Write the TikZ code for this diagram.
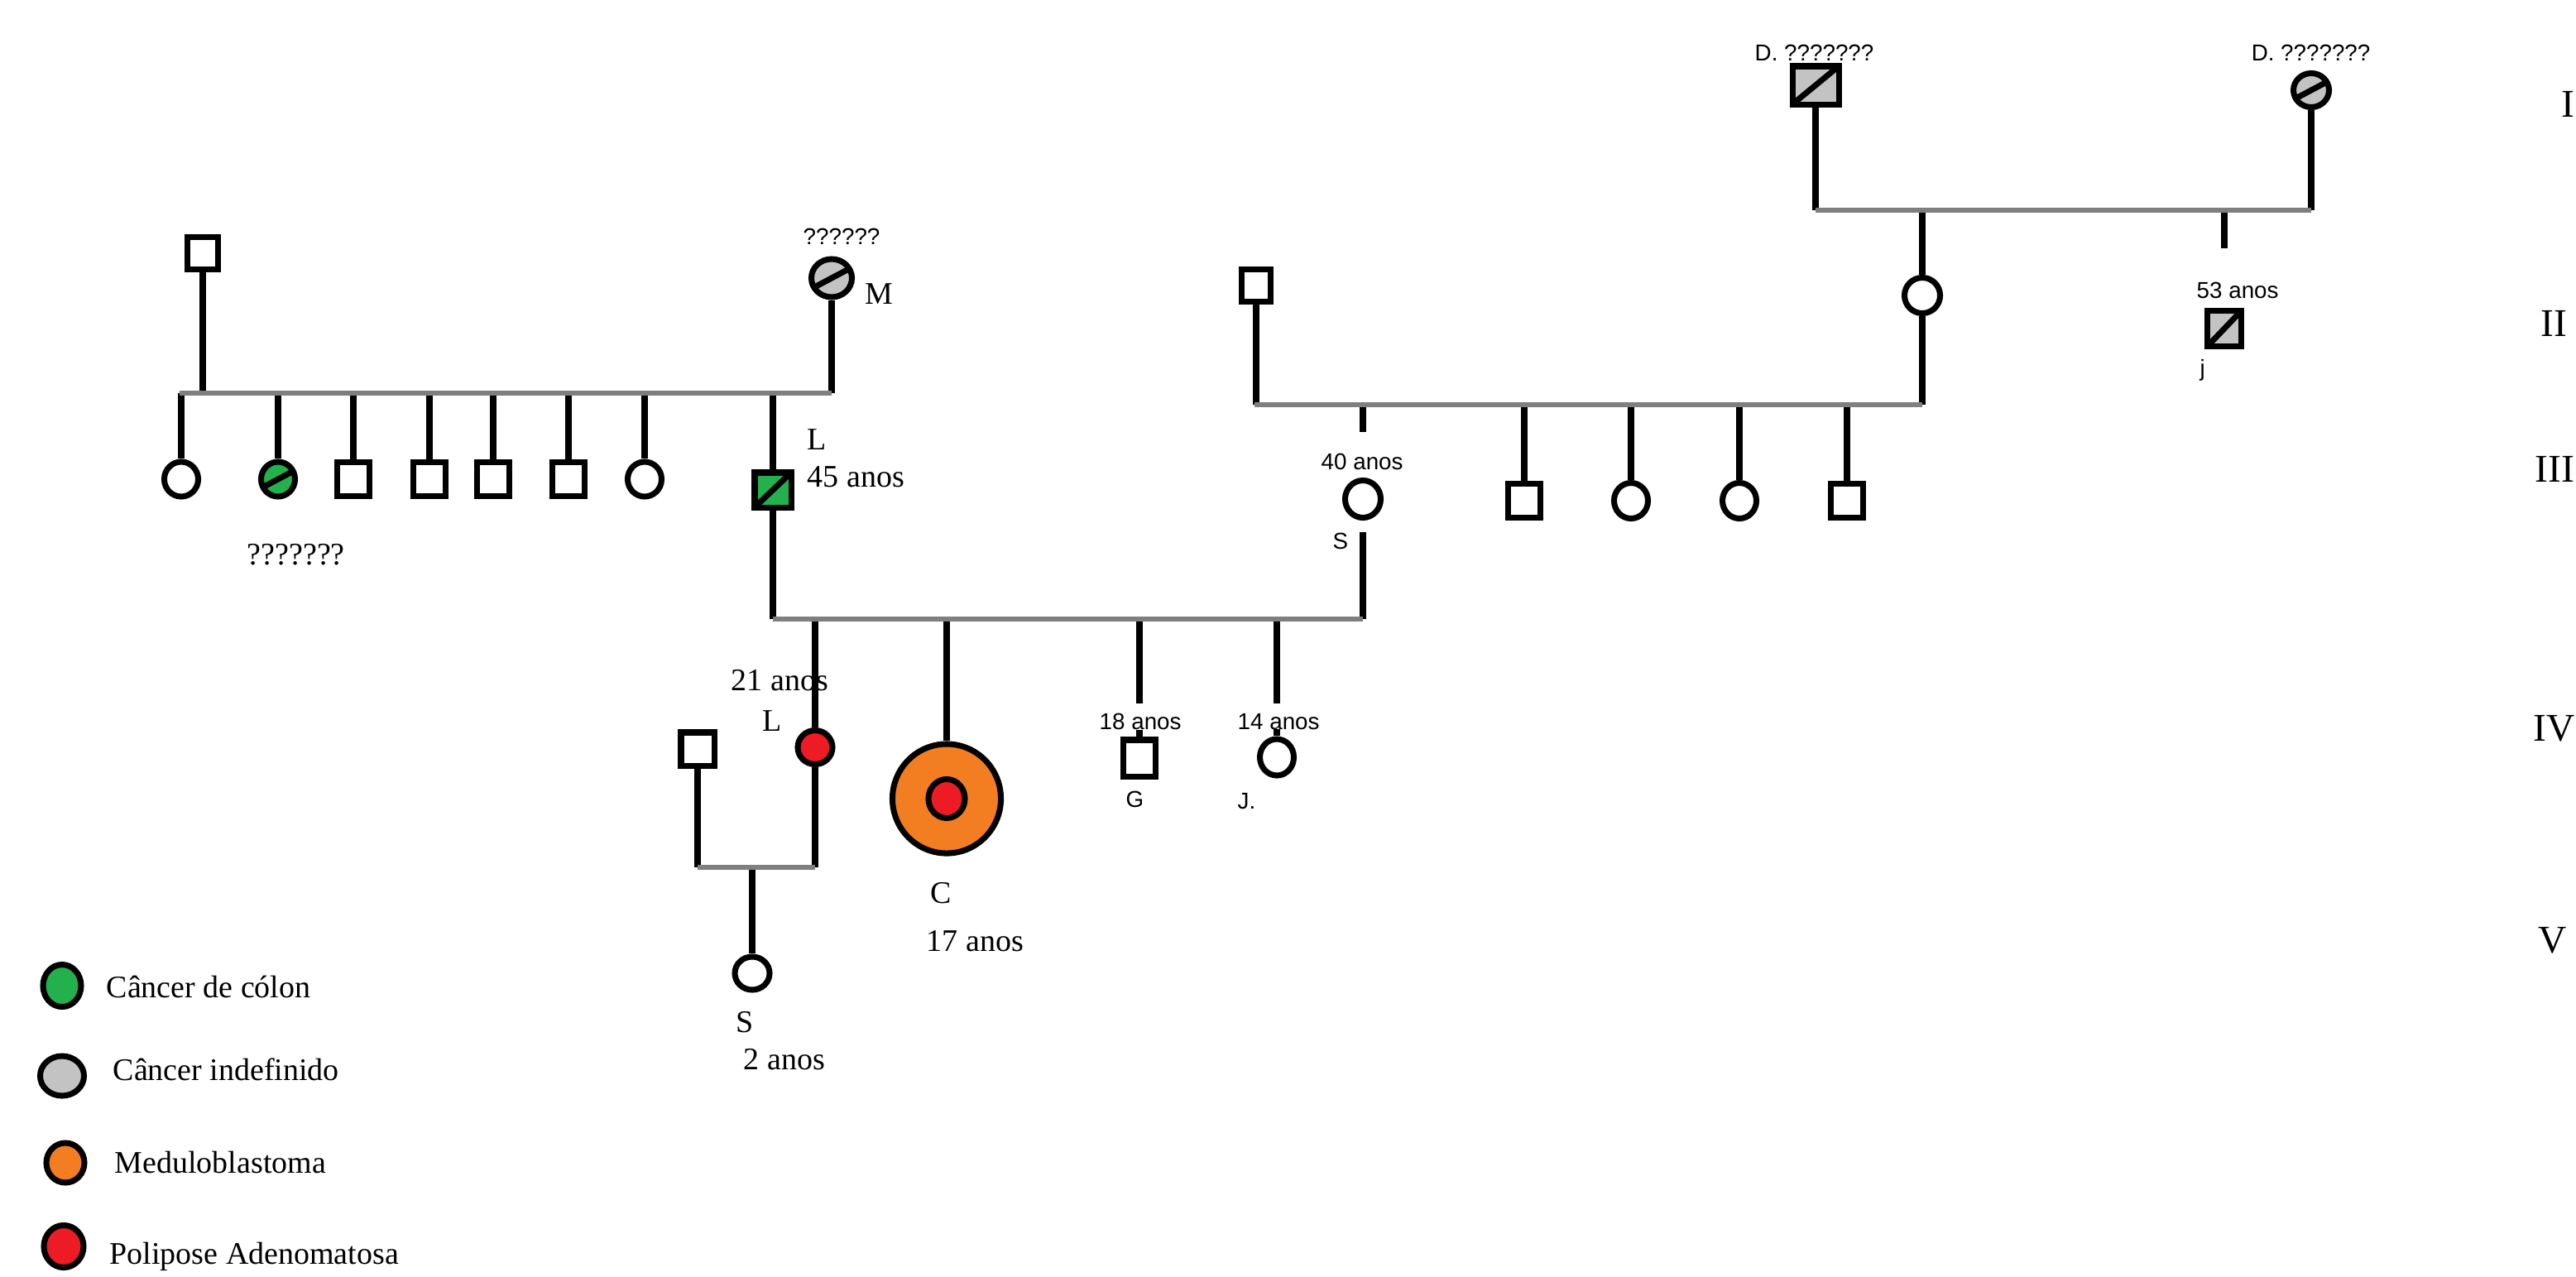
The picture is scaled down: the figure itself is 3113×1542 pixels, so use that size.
\documentclass[tikz,border=0pt]{standalone}
\usepackage{fontspec}
\setmainfont{Liberation Serif}
\newfontfamily\sansf{Liberation Sans}
\usetikzlibrary{shapes.geometric}
\definecolor{pgreen}{HTML}{22B14C}
\definecolor{pgrey}{HTML}{C3C3C3}
\definecolor{porange}{HTML}{F37E22}
\definecolor{pred}{HTML}{ED1C24}
\definecolor{lgrey}{HTML}{7F7F7F}
\begin{document}
\begin{tikzpicture}[x=0.01cm,y=-0.01cm,
  mline/.style={line width=2.1pt,black},
  sib/.style={line width=1.8pt,draw=lgrey},
  male/.style={draw,line width=2pt,rectangle,minimum width=0.39cm,minimum height=0.41cm,inner sep=0pt,fill=white},
  female/.style={draw,line width=2pt,ellipse,minimum width=0.41cm,minimum height=0.43cm,inner sep=0pt,fill=white},
  affsq/.style={path picture={\draw[line width=2pt] (path picture bounding box.south west) -- (path picture bounding box.north east);}},
  affcirc/.style={path picture={\draw[line width=2pt] ([shift={(208:0.5cm)}]path picture bounding box.center) -- ([shift={(28:0.5cm)}]path picture bounding box.center);}},
  serif/.style={inner sep=0pt,anchor=base west,font=\fontsize{10.8}{12}\selectfont},
  sans/.style={inner sep=0pt,anchor=base west,font=\sansf\fontsize{7.9}{9}\selectfont},
  roman/.style={inner sep=0pt,anchor=base west,font=\fontsize{13.5}{15}\selectfont}
]
\useasboundingbox[fill=white] (0,0) rectangle (3113,1542);

% ---------- Generation I ----------
\node[male,fill=pgrey,affsq,minimum width=0.56cm,minimum height=0.46cm] (i1) at (2194,103) {};
\node[female,fill=pgrey,affcirc,minimum width=0.43cm,minimum height=0.41cm] (i2) at (2793,109) {};
\node[sans] (ti1) at (2120,73) {D. ???????};
\node[sans] (ti2) at (2720,73) {D. ???????};
\coordinate (i1b) at (2194,254);
\coordinate (i2b) at (2793,254);
\draw[mline] (i1) -- (i1b);
\draw[mline] (i2) -- (i2b);

% ---------- Generation II ----------
\node[male,minimum width=0.37cm,minimum height=0.39cm] (iia) at (245,306) {};
\node[female,fill=pgrey,affcirc,minimum width=0.49cm,minimum height=0.46cm] (iib) at (1005,336) {};
\node[sans] (tiib) at (970,295) {??????};
\node[serif] (tm) at (1045,367) {M};
\node[male,minimum width=0.35cm,minimum height=0.39cm] (iic) at (1518,345) {};
\node[female,minimum width=0.43cm,minimum height=0.43cm] (iid) at (2323,357) {};
\node[male,fill=pgrey,affsq,minimum width=0.41cm,minimum height=0.43cm] (iie) at (2688,397) {};
\node[sans] (t53) at (2654,360) {53 anos};
\node[sans] (tj) at (2658,454) {j};

\coordinate (iidt) at (2323,254);
\coordinate (stubI) at (2688,254);
\coordinate (stubIb) at (2688,300);
\draw[mline] (iidt) -- (iid);
\draw[mline] (stubI) -- (stubIb);
\draw[sib] (i1b) -- (i2b);

% left sibship
\coordinate (iiaB) at (245,475);
\coordinate (iibB) at (1005,475);
\coordinate (sibL) at (217,475);
\draw[mline] (iia) -- (iiaB);
\draw[mline] (iib) -- (iibB);

% right couple
\coordinate (iicB) at (1518,489);
\coordinate (iidB) at (2323,489);
\draw[mline] (iic) -- (iicB);
\draw[mline] (iid) -- (iidB);

% ---------- Generation III ----------
\node[female,minimum width=0.41cm,minimum height=0.42cm] (c1) at (219,579) {};
\node[female,fill=pgreen,affcirc,minimum width=0.41cm,minimum height=0.42cm] (c2) at (336,579) {};
\node[male] (c3) at (427,579) {};
\node[male] (c4) at (519,579) {};
\node[male] (c5) at (596,579) {};
\node[male] (c6) at (687,579) {};
\node[female,minimum width=0.41cm,minimum height=0.42cm] (c7) at (779,579) {};
\node[male,fill=pgreen,affsq,minimum width=0.44cm,minimum height=0.42cm] (l2) at (934,592) {};
\node[serif] (tl2) at (975,543) {L};
\node[serif] (t45) at (975,588) {45 anos};
\node[serif] (tq7) at (298,682) {???????};

\foreach \n/\x in {c1/219,c2/336,c3/427,c4/519,c5/596,c6/687,c7/779,l2/934}{
  \draw[mline] (\x,475) -- (\n);
}
\draw[sib] (sibL) -- (iibB);

\node[female,minimum width=0.43cm,minimum height=0.45cm] (s3) at (1647,603) {};
\node[sans] (t40) at (1596,567) {40 anos};
\node[sans] (ts3) at (1610,663) {S};
\node[male] (d1) at (1842,605) {};
\node[female] (d2) at (1971,605) {};
\node[female] (d3) at (2102,605) {};
\node[male] (d4) at (2232,605) {};
\foreach \n/\x in {d1/1842,d2/1971,d3/2102,d4/2232}{
  \draw[mline] (\x,489) -- (\n);
}
\coordinate (s3a) at (1647,489);
\coordinate (s3b) at (1647,522);
\coordinate (s3c) at (1647,643);
\coordinate (s3d) at (1647,748);
\draw[mline] (s3a) -- (s3b);
\draw[sib] (1516,489) -- (iidB);

% ---------- Generation IV ----------
\coordinate (l2B) at (934,748);
\draw[mline] (l2) -- (l2B);
\draw[mline] (s3c) -- (s3d);

\node[female,fill=pred,minimum width=0.42cm,minimum height=0.41cm] (rl) at (985,903) {};
\node[serif] (t21) at (883,834) {21 anos};
\node[serif] (tl4) at (921,883) {L};
\node[female,fill=porange,minimum width=1.31cm,minimum height=1.32cm] (co) at (1144,965) {};
\node[female,fill=pred,minimum width=0.44cm,minimum height=0.47cm] (ci) at (1144,965) {};
\node[serif] (tc) at (1124,1091) {C};
\node[serif] (t17) at (1119,1149) {17 anos};
\node[male,minimum width=0.39cm,minimum height=0.44cm] (g) at (1377,916) {};
\node[sans] (t18) at (1328,881) {18 anos};
\node[sans] (tg) at (1360,975) {G};
\node[female,minimum width=0.41cm,minimum height=0.44cm] (jj) at (1543,915) {};
\node[sans] (t14) at (1495,881) {14 anos};
\node[sans] (tjj) at (1495,977) {J.};

\draw[mline] (985,748) -- (rl);
\draw[mline] (1144,748) -- (co);
\draw[mline] (1377,748) -- (1377,850);
\draw[mline] (g.north) -- ++(0,-8);
\draw[mline] (1543,748) -- (1543,850);
\draw[mline] (jj.north) -- ++(0,-8);
\draw[sib] (l2B) -- (s3d);

% ---------- Generation V ----------
\node[male,minimum width=0.40cm,minimum height=0.40cm] (m4) at (843,905) {};
\node[female,minimum width=0.42cm,minimum height=0.40cm] (s5) at (909,1176) {};
\node[serif] (ts5) at (889,1247) {S};
\node[serif] (t2) at (898,1292) {2 anos};
\coordinate (m4B) at (843,1048);
\coordinate (rlB) at (985,1048);
\draw[mline] (m4) -- (m4B);
\draw[mline] (rl) -- (rlB);
\draw[mline] (909,1048) -- (s5);
\draw[sib] (m4B) -- (rlB);

% ---------- Generation numerals ----------
\node[roman] (gI) at (3095,141) {I};
\node[roman] (gII) at (3070,406) {II};
\node[roman] (gIII) at (3063,582) {III};
\node[roman] (gIV) at (3061,895) {IV};
\node[roman] (gV) at (3067,1151) {V};

% ---------- Legend ----------
\node[female,fill=pgreen,minimum width=0.46cm,minimum height=0.51cm] (lg1) at (75,1191) {};
\node[female,fill=pgrey,minimum width=0.53cm,minimum height=0.48cm] (lg2) at (75,1300) {};
\node[female,fill=porange,minimum width=0.46cm,minimum height=0.48cm] (lg3) at (79,1405) {};
\node[female,fill=pred,minimum width=0.48cm,minimum height=0.51cm] (lg4) at (77,1506) {};
\node[serif] (tlg1) at (128,1205) {Câncer de cólon};
\node[serif] (tlg2) at (136,1305) {Câncer indefinido};
\node[serif] (tlg3) at (138,1417) {Meduloblastoma};
\node[serif] (tlg4) at (132,1527) {Polipose Adenomatosa};
\end{tikzpicture}
\end{document}
